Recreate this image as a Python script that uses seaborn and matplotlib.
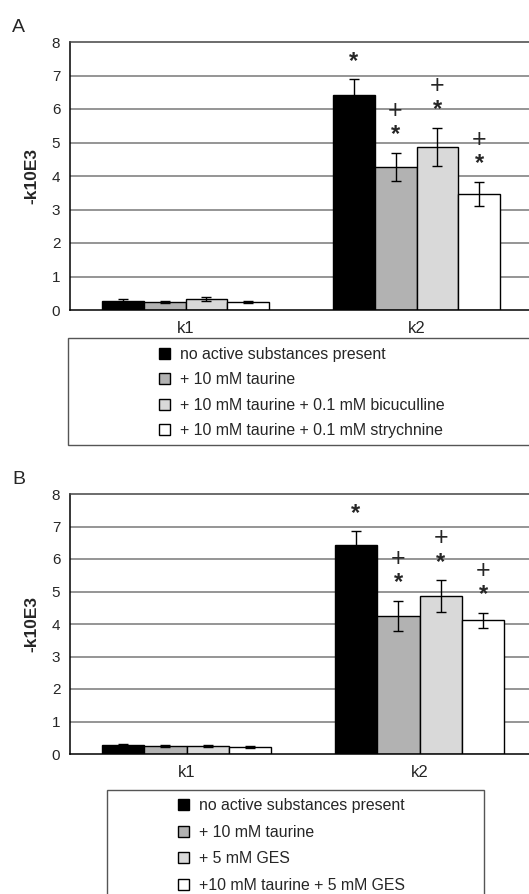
import numpy as np
import pandas as pd
import matplotlib
matplotlib.use("Agg")
import matplotlib.pyplot as plt
from matplotlib.patches import Patch, Rectangle
import seaborn as sns

sns.set_theme(style="white")
plt.rcParams["font.family"] = ["Liberation Sans", "DejaVu Sans"]

categories = ["k1", "k2"]

# Panel A
labels_a = ["no active substances present", "+ 10 mM taurine",
            "+ 10 mM taurine + 0.1 mM bicuculline",
            "+ 10 mM taurine + 0.1 mM strychnine"]
k1_a = [0.28, 0.24, 0.33, 0.23]
k2_a = [6.43, 4.28, 4.87, 3.47]
k1_err_a = [0.04, 0.03, 0.05, 0.03]
k2_err_a = [0.46, 0.42, 0.57, 0.36]
plus_a = [False, True, True, True]

# Panel B
labels_b = ["no active substances present", "+ 10 mM taurine",
            "+ 5 mM GES", "+10 mM taurine + 5 mM GES"]
k1_b = [0.28, 0.24, 0.26, 0.23]
k2_b = [6.43, 4.26, 4.86, 4.11]
k1_err_b = [0.04, 0.03, 0.03, 0.03]
k2_err_b = [0.42, 0.46, 0.49, 0.24]
plus_b = [False, True, True, True]

colors = ["#000000", "#b2b2b2", "#d9d9d9", "#ffffff"]

W, H = 529, 894
fig = plt.figure(figsize=(W / 100, H / 100), dpi=100)

STAR_FS = 17
PLUS_FS = 18


def panel(rect, labels, k1, k2, k1e, k2e, plus):
    ax = fig.add_axes(rect)
    df = pd.DataFrame({
        "cat": [categories[0]] * 4 + [categories[1]] * 4,
        "grp": labels + labels,
        "val": k1 + k2,
        "err": k1e + k2e,
    })
    sns.barplot(data=df, x="cat", y="val", hue="grp", hue_order=labels,
                palette=colors, width=0.727, gap=0, errorbar=None,
                edgecolor="black", linewidth=1.0, legend=False, ax=ax,
                saturation=1)
    bars = sorted(ax.patches, key=lambda p: p.get_x())
    centers = [b.get_x() + b.get_width() / 2 for b in bars]
    vals = k1 + k2
    errs = k1e + k2e
    ax.errorbar(centers, vals, yerr=errs, fmt="none", ecolor="black",
                elinewidth=1.0, capsize=3.5, capthick=1.0, zorder=5)
    # significance marks above the k2 bars
    for i, has_plus in enumerate(plus):
        x = centers[4 + i]
        top = vals[4 + i] + errs[4 + i]
        star_c = 14.5  # points above error bar top (glyph centre)
        ax.annotate("*", xy=(x, top), xytext=(0, star_c - 0.37 * STAR_FS),
                    textcoords="offset points", ha="center", va="baseline",
                    fontsize=STAR_FS, fontweight="bold")
        if has_plus:
            plus_c = star_c + 17.0
            ax.annotate("+", xy=(x, top), xytext=(0, plus_c - 0.35 * PLUS_FS),
                        textcoords="offset points", ha="center",
                        va="baseline", fontsize=PLUS_FS)
    ax.set_ylim(0, 8)
    ax.set_xlim(-0.5, 1.5)
    ax.set_yticks(range(0, 9))
    ax.set_xticks([0, 1])
    ax.set_xticklabels(categories, fontsize=12)
    ax.set_xticks([-0.5, 0.5, 1.5], minor=True)
    ax.tick_params(axis="x", which="major", length=0, pad=8)
    ax.tick_params(axis="x", which="minor", length=4, width=1, color="black",
                   direction="out")
    ax.tick_params(axis="y", length=4, width=1, color="black", direction="out",
                   labelsize=11, pad=3)
    for y in range(1, 8):
        ax.axhline(y, color="#8c8c8c", lw=1.3, zorder=0)
    for s in ["left", "bottom", "top"]:
        ax.spines[s].set_visible(True)
        ax.spines[s].set_color("black")
        ax.spines[s].set_linewidth(1.1)
    ax.spines["top"].set_color("#444444")
    ax.spines["right"].set_visible(False)
    ax.set_xlabel("")
    ax.set_ylabel("-k10E3", fontsize=12.5, fontweight="bold", labelpad=9)
    ax.set_facecolor("white")
    return ax


ax_a = panel([70 / W, 1 - 310 / H, 462 / W, 268 / H],
             labels_a, k1_a, k2_a, k1_err_a, k2_err_a, plus_a)
ax_b = panel([70 / W, 1 - 754 / H, 466 / W, 260 / H],
             labels_b, k1_b, k2_b, k1_err_b, k2_err_b, plus_b)

fig.text(12 / W, 1 - 28 / H, "A", fontsize=14, va="center", ha="left")
fig.text(12 / W, 1 - 480 / H, "B", fontsize=14, va="center", ha="left")


def legend_box(x0, y0, x1, y1, labels, lx, ly, spacing):
    fig.patches.append(Rectangle((x0 / W, 1 - y1 / H), (x1 - x0) / W,
                                 (y1 - y0) / H, transform=fig.transFigure,
                                 facecolor="white", edgecolor="#555555",
                                 lw=1.0, zorder=0))
    handles = [Patch(facecolor=c, edgecolor="black", lw=1.0) for c in colors]
    leg = fig.legend(handles, labels, loc="upper left",
                     bbox_to_anchor=(lx / W, 1 - ly / H), frameon=False,
                     fontsize=11.4, handlelength=0.7, handleheight=0.7,
                     handletextpad=0.63, labelspacing=spacing,
                     borderaxespad=0, borderpad=0)
    return leg


legend_box(68, 338, 535, 445, labels_a, 159, 347, 0.65)
legend_box(107, 790, 484, 900, labels_b, 178, 798, 0.74)

fig.savefig("out.png", dpi=100, facecolor="white")
